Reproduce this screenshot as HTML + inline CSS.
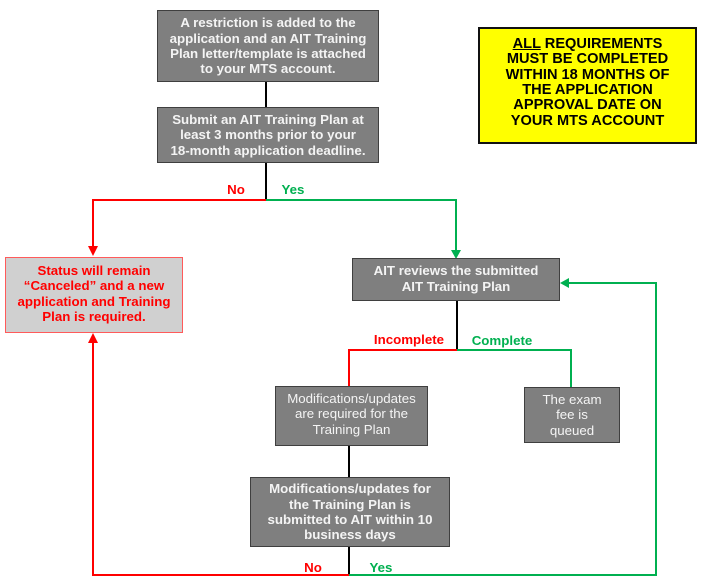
<!DOCTYPE html>
<html><head><meta charset="utf-8"><style>
html,body{margin:0;padding:0;background:#fff;width:709px;height:587px;overflow:hidden}
body{position:relative;font-family:"Liberation Sans",Arial,sans-serif}
.b{position:absolute;box-sizing:border-box;display:flex;align-items:center;justify-content:center;text-align:center;font-size:13.3px;line-height:15.4px}
.g{background:#7f7f7f;border:1.5px solid #3f3f3f;color:#f4f4f4}
.bold{font-weight:bold}
svg{position:absolute;left:0;top:0}
</style></head><body>
<svg width="709" height="587" viewBox="0 0 709 587">
<g fill="none" stroke-width="2">
<path d="M266 82V107M266 163V200" stroke="#000"/>
<path d="M266 200H93V248" stroke="#ff0000"/>
<path d="M266 200H456V252" stroke="#00b050"/>
<path d="M457 301V350" stroke="#000"/>
<path d="M457 350H349V386" stroke="#ff0000"/>
<path d="M457 350H571V387" stroke="#00b050"/>
<path d="M349 446V477M349 547V575" stroke="#000"/>
<path d="M349 575H93V341" stroke="#ff0000"/>
<path d="M349 575H656V283H567" stroke="#00b050"/>
</g>
<polygon points="88,246 98,246 93,256" fill="#ff0000"/>
<polygon points="451,250 461,250 456,259" fill="#00b050"/>
<polygon points="88,343 98,343 93,333" fill="#ff0000"/>
<polygon points="569,278 569,288 560,283" fill="#00b050"/>
<g font-family="Liberation Sans, Arial, sans-serif" font-weight="bold" font-size="13.3" text-anchor="middle">
<text x="236" y="194" fill="#ff0000">No</text>
<text x="293" y="194" fill="#00b050">Yes</text>
<text x="409" y="344" fill="#ff0000">Incomplete</text>
<text x="502" y="345" fill="#00b050">Complete</text>
<text x="313" y="572" fill="#ff0000">No</text>
<text x="381" y="572" fill="#00b050">Yes</text>
</g>
</svg>
<div class="b g bold" style="left:157px;top:10px;width:222px;height:72px">A restriction is added to the<br>application and an AIT Training<br>Plan letter/template is attached<br>to your MTS account.</div>
<div class="b g bold" style="left:157px;top:107px;width:222px;height:56px">Submit an AIT Training Plan at<br>least 3 months prior to your<br>18-month application deadline.</div>
<div class="b bold" style="left:478px;top:27px;width:219px;height:117px;background:#ffff00;border:2px solid #111;color:#000;font-size:14.6px;line-height:15.4px;padding-bottom:5px">
<div><span style="text-decoration:underline">ALL</span> REQUIREMENTS<br>MUST BE COMPLETED<br>WITHIN 18 MONTHS OF<br>THE APPLICATION<br>APPROVAL DATE ON<br>YOUR MTS ACCOUNT</div></div>
<div class="b bold" style="left:5px;top:257px;width:178px;height:76px;background:#d0d0d0;border:1.5px solid #ff5a5a;color:#ff0000;padding-bottom:3px">Status will remain<br>“Canceled” and a new<br>application and Training<br>Plan is required.</div>
<div class="b g bold" style="left:352px;top:258px;width:208px;height:43px;padding-bottom:2px">AIT reviews the submitted<br>AIT Training Plan</div>
<div class="b g" style="left:275px;top:386px;width:153px;height:60px;padding-bottom:4px">Modifications/updates<br>are required for the<br>Training Plan</div>
<div class="b g" style="left:524px;top:387px;width:96px;height:56px">The exam<br>fee is<br>queued</div>
<div class="b g bold" style="left:250px;top:477px;width:200px;height:70px">Modifications/updates for<br>the Training Plan is<br>submitted to AIT within 10<br>business days</div>
</body></html>
